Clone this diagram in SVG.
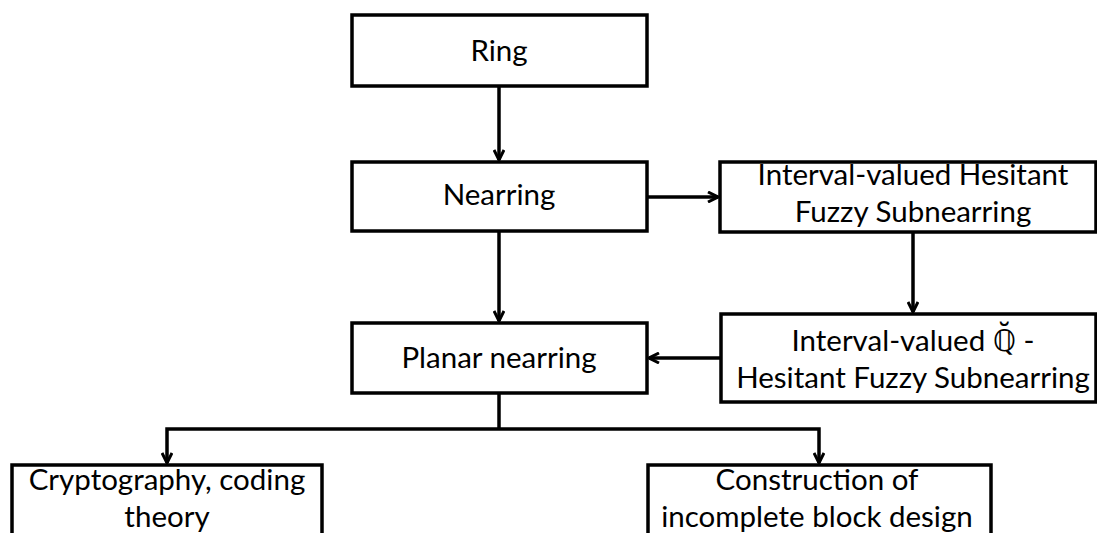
<svg xmlns="http://www.w3.org/2000/svg" width="1097" height="533" viewBox="0 0 1097 533">
<style>
.box{fill:#fff;stroke:#000;stroke-width:3.5}
.t{font-family:Lato,"Liberation Sans",sans-serif;font-size:29.5px;fill:#000;text-anchor:middle}
.c{fill:none;stroke:#000;stroke-width:3.5}
</style>
<defs>
<marker id="ah" viewBox="0 0 12 12" refX="11" refY="6" markerWidth="12" markerHeight="12" markerUnits="userSpaceOnUse" orient="auto">
<path d="M1,1 L11,6 L1,11" fill="none" stroke="#000" stroke-width="3"/>
</marker>
</defs>
<rect width="1097" height="533" fill="#fff"/>
<g id="connectors">
<path class="c" d="M499,86 V160" marker-end="url(#ah)"/>
<path class="c" d="M499,231 V321" marker-end="url(#ah)"/>
<path class="c" d="M647,197 H718" marker-end="url(#ah)"/>
<path class="c" d="M913,232 V312" marker-end="url(#ah)"/>
<path class="c" d="M721,358 H649" marker-end="url(#ah)"/>
<path class="c" d="M499,393 V429"/>
<path class="c" d="M499,429 H167 V463" marker-end="url(#ah)"/>
<path class="c" d="M499,429 H819 V463" marker-end="url(#ah)"/>
</g>
<g id="ring"><rect class="box" x="352" y="15" width="295" height="71"/><text class="t" x="499" y="61">Ring</text></g>
<g id="nearring"><rect class="box" x="352" y="162" width="295" height="69"/><text class="t" x="499" y="205">Nearring</text></g>
<g id="planar"><rect class="box" x="352" y="323" width="295" height="70"/><text class="t" x="499" y="368">Planar nearring</text></g>
<g id="ivhfs"><rect class="box" x="720" y="162" width="376" height="70"/><text class="t" x="913" y="185">Interval-valued Hesitant</text><text class="t" x="913" y="222">Fuzzy Subnearring</text></g>
<g id="qhfs"><rect class="box" x="721" y="314" width="375" height="88"/><text class="t" x="913" y="351">Interval-valued <tspan font-family="'DejaVu Sans',sans-serif">ℚ̆</tspan> -</text><text class="t" x="913" y="388">Hesitant Fuzzy Subnearring</text></g>
<g id="crypto"><rect class="box" x="12" y="465" width="310" height="80"/><text class="t" x="167" y="490">Cryptography, coding</text><text class="t" x="167" y="527">theory</text></g>
<g id="construction"><rect class="box" x="648" y="465" width="343" height="80"/><text class="t" x="817" y="490">Construction of</text><text class="t" x="817" y="527">incomplete block design</text></g>
</svg>
